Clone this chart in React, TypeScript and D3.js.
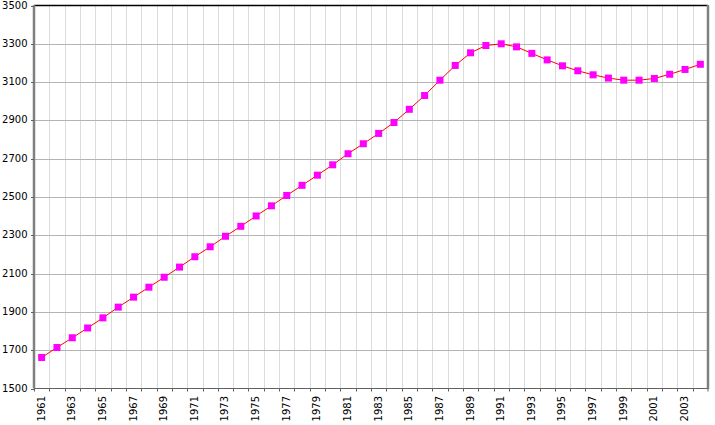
import React from "react";
import * as d3 from "d3";

const years: number[] = [
  1961, 1962, 1963, 1964, 1965, 1966, 1967, 1968, 1969, 1970,
  1971, 1972, 1973, 1974, 1975, 1976, 1977, 1978, 1979, 1980,
  1981, 1982, 1983, 1984, 1985, 1986, 1987, 1988, 1989, 1990,
  1991, 1992, 1993, 1994, 1995, 1996, 1997, 1998, 1999, 2000,
  2001, 2002, 2003, 2004,
];

const values: number[] = [
  1662, 1714, 1765, 1816, 1869, 1925, 1977, 2029, 2081, 2134,
  2188, 2240, 2295, 2347, 2401, 2454, 2508, 2561, 2614, 2668,
  2726, 2778, 2832, 2889, 2958, 3030, 3110, 3187, 3253, 3291,
  3300, 3284, 3250, 3216, 3185, 3159, 3138, 3121, 3110, 3110,
  3119, 3141, 3166, 3193,
];

const yTicks: number[] = [1500, 1700, 1900, 2100, 2300, 2500, 2700, 2900, 3100, 3300, 3500];
const xLabelYears: number[] = years.filter((y) => (y - 1961) % 2 === 0);

const W = 715;
const H = 425;
const L = 34;
const R = 708;
const T = 5.5;
const B = 388.5;
const FONT = "'DejaVu Sans', Verdana, sans-serif";

export default function App() {
  const x = d3.scaleBand<number>().domain(years).range([L, R]).padding(0);
  const y = d3.scaleLinear().domain([1500, 3500]).range([B, T]);
  const cx = (yr: number) => (x(yr) as number) + x.bandwidth() / 2;

  const line = d3
    .line<number>()
    .x((_, i) => cx(years[i]))
    .y((d) => y(d));

  const boundaries = years.slice(1).map((yr) => Math.round(x(yr) as number) + 0.5);
  const allBoundaries = years.map((yr) => Math.round(x(yr) as number) + 0.5).concat([R]);

  return (
    <svg
      width={W}
      height={H}
      style={{ position: "absolute", left: 0, top: 0, background: "#fff" }}
    >
      <rect x={0} y={0} width={W} height={H} fill="#fff" />
      {/* vertical grid */}
      {boundaries.map((bx, i) => (
        <line key={"vg" + i} x1={bx} x2={bx} y1={T} y2={B} stroke="#dcdcdc" strokeWidth={1} />
      ))}
      {/* horizontal grid */}
      {yTicks.slice(1, -1).map((t) => (
        <line
          key={"hg" + t}
          x1={L}
          x2={R}
          y1={Math.round(y(t)) + 0.5}
          y2={Math.round(y(t)) + 0.5}
          stroke="#b4b4b4"
          strokeWidth={1}
        />
      ))}
      {/* frame */}
      <line x1={L} x2={R} y1={T} y2={T} stroke="#000" strokeWidth={1.5} />
      <line x1={L} x2={R + 1} y1={B} y2={B} stroke="#606060" strokeWidth={1} />
      <line x1={L} x2={L} y1={T - 0.5} y2={B} stroke="#808080" strokeWidth={2.5} />
      <line x1={R} x2={R} y1={T - 0.5} y2={B} stroke="#808080" strokeWidth={2.5} />
      {/* y ticks & labels */}
      {yTicks.map((t) => (
        <g key={"yt" + t}>
          <line x1={L - 3} x2={L} y1={Math.round(y(t)) + 0.5} y2={Math.round(y(t)) + 0.5} stroke="#606060" />
          <text
            x={27.5}
            y={y(t)}
            textAnchor="end"
            dominantBaseline="middle"
            fontFamily={FONT}
            fontSize={10}
            fill="#000"
          >
            {t}
          </text>
        </g>
      ))}
      {/* x ticks */}
      {allBoundaries.map((bx, i) => (
        <line key={"xt" + i} x1={bx} x2={bx} y1={B} y2={B + 3} stroke="#606060" />
      ))}
      {xLabelYears.map((yr) => (
        <text
          key={"xl" + yr}
          transform={`translate(${cx(yr)},${396}) rotate(-90)`}
          textAnchor="end"
          dominantBaseline="middle"
          fontFamily={FONT}
          fontSize={10}
          fill="#000"
        >
          {yr}
        </text>
      ))}
      {/* data line */}
      <path d={line(values) || ""} fill="none" stroke="#ff0000" strokeWidth={1} />
      {values.map((v, i) => (
        <rect
          key={"m" + i}
          x={cx(years[i]) - 3.5}
          y={y(v) - 3.5}
          width={7}
          height={7}
          fill="#ff00ff"
        />
      ))}
    </svg>
  );
}
